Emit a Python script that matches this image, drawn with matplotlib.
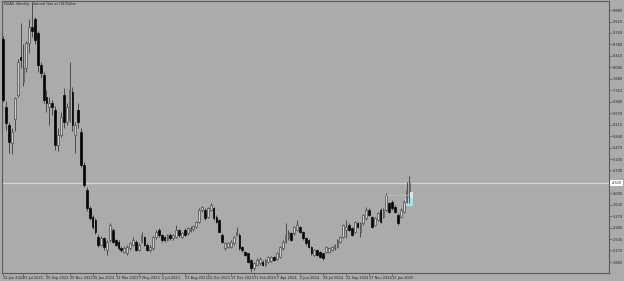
import matplotlib.pyplot as plt
from matplotlib.patches import Rectangle

# weekly NGAS candles (first bar = 12 Jun 2022)
opens = [8.95, 6.77, 6.20, 5.62, 6.40, 7.15, 8.37, 7.57, 8.02, 8.82,
         9.35, 9.59, 9.14, 8.12, 7.80, 7.09, 6.77, 6.90, 6.67, 5.55,
         5.87, 7.15, 6.29, 6.35, 7.25, 5.87, 6.67, 5.97, 4.91, 4.11,
         3.53, 3.24, 3.15, 2.61, 2.35, 2.56, 2.19, 2.51, 2.83, 2.51,
         2.45, 2.24, 2.13, 2.08, 2.24, 2.35, 2.45, 2.20, 2.45, 2.61,
         2.35, 2.19, 2.24, 2.61, 2.83, 2.67, 2.61, 2.51, 2.67, 2.56,
         2.61, 2.83, 2.61, 2.83, 2.72, 2.80, 2.85, 2.93, 3.09, 3.47,
         3.47, 3.25, 3.47, 3.52, 3.25, 3.15, 2.67, 2.24, 2.29, 2.29,
         2.40, 2.67, 2.67, 2.29, 2.13, 2.08, 1.87, 1.60, 1.71, 1.76,
         1.81, 1.71, 1.81, 1.84, 1.95, 1.89, 1.97, 2.24, 2.45, 2.56,
         2.72, 2.72, 2.83, 2.93, 2.77, 2.56, 2.51, 2.29, 2.03, 2.19,
         2.13, 2.08, 2.13, 2.13, 2.19, 2.24, 2.29, 2.45, 2.61, 2.83,
         2.99, 2.88, 2.77, 3.04, 2.77, 3.04, 3.20, 3.47, 3.25, 2.99,
         3.15, 3.47, 3.25, 3.47, 3.68, 3.74, 3.57, 3.31, 3.25, 3.41,
         3.74, 3.95]
highs = [9.05, 6.95, 6.30, 6.10, 7.10, 8.30, 9.46, 8.80, 8.90, 9.60,
         10.10, 9.65, 9.20, 8.20, 7.90, 7.32, 7.10, 7.00, 6.80, 6.10,
         6.60, 7.38, 6.90, 8.21, 7.40, 6.30, 6.90, 6.10, 5.00, 4.20,
         3.60, 3.30, 3.20, 2.70, 2.62, 2.60, 2.50, 3.04, 2.90, 2.55,
         2.50, 2.30, 2.30, 2.35, 2.45, 2.60, 2.50, 2.40, 2.77, 2.65,
         2.40, 2.35, 2.65, 2.83, 2.88, 2.70, 2.65, 2.70, 2.72, 2.70,
         2.99, 2.86, 2.76, 2.88, 2.91, 2.95, 3.00, 3.12, 3.52, 3.60,
         3.52, 3.58, 3.70, 3.58, 3.30, 3.18, 2.72, 2.45, 2.45, 2.50,
         2.65, 2.93, 2.72, 2.32, 2.16, 2.10, 1.90, 1.80, 1.92, 1.95,
         1.85, 1.90, 1.98, 2.00, 1.99, 2.12, 2.33, 2.50, 3.04, 2.82,
         2.76, 2.97, 3.15, 2.97, 2.80, 2.60, 2.55, 2.32, 2.23, 2.22,
         2.16, 2.10, 2.33, 2.27, 2.33, 2.39, 2.55, 2.65, 3.02, 3.15,
         3.04, 2.92, 3.12, 3.08, 3.07, 3.35, 3.57, 3.52, 3.29, 3.24,
         3.40, 3.52, 3.52, 4.00, 3.74, 3.79, 3.62, 3.36, 3.52, 3.78,
         4.38, 4.57]
lows = [6.93, 6.03, 5.30, 5.25, 6.00, 7.10, 8.02, 7.45, 7.90, 8.50,
        9.00, 8.80, 7.90, 7.70, 6.90, 6.60, 6.20, 6.50, 5.40, 5.35,
        5.80, 6.10, 6.20, 6.30, 6.00, 5.30, 6.10, 4.85, 4.20, 3.45,
        3.15, 2.85, 2.70, 2.29, 2.30, 2.19, 2.03, 2.45, 2.40, 2.30,
        2.20, 2.13, 2.10, 2.03, 2.20, 2.30, 2.15, 2.15, 2.40, 2.30,
        2.15, 2.13, 2.20, 2.55, 2.60, 2.45, 2.45, 2.48, 2.50, 2.52,
        2.58, 2.60, 2.58, 2.62, 2.68, 2.77, 2.80, 2.90, 3.05, 3.40,
        3.15, 3.20, 3.45, 3.15, 3.05, 2.75, 2.40, 2.19, 2.25, 2.26,
        2.36, 2.62, 2.20, 2.13, 1.99, 1.76, 1.49, 1.55, 1.68, 1.72,
        1.66, 1.68, 1.78, 1.80, 1.84, 1.86, 1.94, 2.20, 2.40, 2.52,
        2.46, 2.68, 2.80, 2.72, 2.52, 2.36, 2.25, 2.04, 2.00, 1.99,
        1.93, 1.88, 2.10, 2.10, 2.16, 2.20, 2.26, 2.42, 2.58, 2.56,
        2.78, 2.62, 2.72, 2.88, 2.61, 3.00, 3.16, 3.27, 2.88, 2.95,
        3.11, 3.04, 3.20, 3.43, 3.36, 3.48, 3.37, 3.00, 3.20, 3.37,
        3.70, 3.70]
closes = [6.99, 6.26, 5.65, 5.97, 7.06, 8.21, 8.28, 8.02, 8.82, 9.34,
          9.20, 8.92, 8.12, 7.86, 6.99, 6.90, 6.90, 6.77, 5.55, 5.87,
          6.45, 6.29, 6.77, 7.32, 6.19, 6.19, 6.29, 4.91, 4.27, 3.52,
          3.21, 2.92, 2.77, 2.35, 2.56, 2.29, 2.45, 2.99, 2.45, 2.35,
          2.24, 2.19, 2.24, 2.29, 2.40, 2.51, 2.20, 2.35, 2.67, 2.35,
          2.19, 2.29, 2.61, 2.77, 2.67, 2.51, 2.50, 2.67, 2.56, 2.67,
          2.83, 2.67, 2.72, 2.67, 2.88, 2.90, 2.96, 3.09, 3.47, 3.55,
          3.20, 3.52, 3.63, 3.20, 3.09, 2.77, 2.45, 2.40, 2.40, 2.45,
          2.61, 2.77, 2.24, 2.19, 2.03, 1.81, 1.60, 1.76, 1.87, 1.89,
          1.71, 1.87, 1.95, 1.97, 1.87, 2.08, 2.29, 2.45, 2.67, 2.77,
          2.51, 2.93, 2.99, 2.77, 2.56, 2.40, 2.29, 2.08, 2.19, 2.03,
          1.97, 1.92, 2.29, 2.24, 2.29, 2.35, 2.51, 2.61, 2.99, 2.93,
          2.83, 2.67, 3.09, 2.93, 3.04, 3.31, 3.47, 3.31, 2.93, 3.20,
          3.36, 3.09, 3.47, 3.95, 3.41, 3.52, 3.41, 3.04, 3.47, 3.74,
          4.11, 4.32]

date_pos = [0, 7, 15, 23, 31, 39, 47, 55, 63, 71, 79, 87, 95, 103, 111, 119, 127, 135]
date_labels = ["12 Jun 2022", "31 Jul 2022", "25 Sep 2022", "20 Nov 2022", "15 Jan 2023",
               "12 Mar 2023", "7 May 2023", "2 Jul 2023", "27 Aug 2023", "22 Oct 2023",
               "17 Dec 2023", "11 Feb 2024", "7 Apr 2024", "2 Jun 2024", "28 Jul 2024",
               "22 Sep 2024", "17 Nov 2024", "12 Jan 2025"]
price_ticks = [1.800, 2.170, 2.530, 2.900, 3.270, 3.630, 4.000, 4.370, 4.740, 5.100,
               5.470, 5.840, 6.210, 6.570, 6.940, 7.310, 7.680, 8.040, 8.410, 8.780,
               9.150, 9.510, 9.880]
last_price = 4.320
level_price = 3.95
zone = (3.61, 3.85)

bg = '#ababab'
frame = '#5a5a5a'
fs = 2.5

fig = plt.figure(figsize=(6.24, 2.81), dpi=100)
fig.patch.set_facecolor(bg)
ax = fig.add_axes([2 / 624, 8.3 / 281, 607 / 624, 271.7 / 281])
ax.set_facecolor(bg)

n = len(closes)
xs = list(range(n))

# wicks
ax.vlines(xs, lows, highs, color='#3a3a3a', linewidth=0.6, zorder=2)

# bodies
up = [i for i in xs if closes[i] >= opens[i]]
dn = [i for i in xs if closes[i] < opens[i]]
ax.bar(up, [closes[i] - opens[i] for i in up], bottom=[opens[i] for i in up],
       width=0.62, color='#cfcfcf', edgecolor='#4a4a4a', linewidth=0.5, zorder=3)
ax.bar(dn, [opens[i] - closes[i] for i in dn], bottom=[closes[i] for i in dn],
       width=0.62, color='#050505', edgecolor='#050505', linewidth=0.5, zorder=3)

# bid line
ax.axhline(last_price, color='#d6d6d6', linewidth=0.9, zorder=1)

# drawn objects near the last bars
ax.hlines(level_price, 132.5, n + 0.3, color='#d0d0d0', linewidth=0.6,
          linestyles=(0, (1, 1)), zorder=4)
ax.add_patch(Rectangle((139.5, zone[0]), 2.9, zone[1] - zone[0],
                       facecolor='#a9dfea', edgecolor='none', zorder=1.5))
ax.text(n - 0.6, level_price, "  ", fontsize=2.2, va='center',
        bbox=dict(facecolor='#e4e4e4', edgecolor='none', pad=0.6), zorder=5)

ax.set_xlim(-0.45, 210.3)
ax.set_ylim(1.458, 10.17)

ax.set_xticks(date_pos)
ax.set_xticklabels(date_labels, fontsize=fs, color='#202020', ha='left')
ax.tick_params(axis='x', length=2, width=0.5, color=frame, pad=0.6)

ax.yaxis.tick_right()
ax.set_yticks(price_ticks)
ax.set_yticklabels([f"{v:.3f}" for v in price_ticks], fontsize=fs, color='#202020')
ax.tick_params(axis='y', length=2, width=0.5, color=frame, pad=0.5)

for s in ax.spines.values():
    s.set_color(frame)
    s.set_linewidth(0.8)

# current price box on the price scale
ax.annotate(f"{last_price:.3f}", xy=(1.0, last_price), xycoords=('axes fraction', 'data'),
            xytext=(1.8, 0), textcoords='offset points', fontsize=fs, color='#202020',
            va='center', ha='left',
            bbox=dict(boxstyle='square,pad=0.3', facecolor='white', edgecolor='none'),
            annotation_clip=False, zorder=6)

ax.text(0.004, 0.995, "NGAS, Weekly:  Natural Gas vs US Dollar", transform=ax.transAxes,
        fontsize=fs, color='#202020', va='top', ha='left')

fig.savefig('out.png', dpi=100, facecolor=bg)
